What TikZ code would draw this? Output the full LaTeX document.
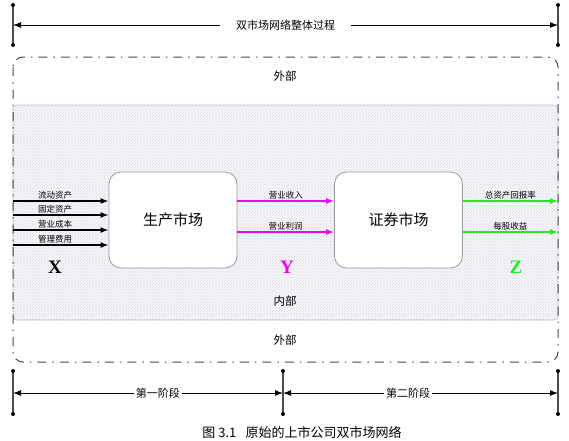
\documentclass[tikz,border=0pt]{standalone}
\usepackage{fontspec}
\setmainfont{Liberation Serif}
\newfontfamily\cjk{Noto Sans CJK SC}
\usetikzlibrary{arrows.meta,patterns}
\definecolor{mag}{RGB}{240,0,240}
\definecolor{grn}{RGB}{40,230,40}
\definecolor{hatchbg}{RGB}{248,248,251}
\definecolor{hatchln}{RGB}{218,218,232}
\begin{document}
\begin{tikzpicture}[x=1pt,y=-1pt,
  tick/.style={draw=gray!60!black,line width=1.4pt},
  dotc/.style={fill=black},
  dimline/.style={draw=black,line width=1pt,{Latex[length=8pt,width=6pt]}-{Latex[length=8pt,width=6pt]}},
  dimlabel/.style={fill=white,font=\cjk\fontsize{11}{12}\selectfont,inner ysep=1pt},
  outerbox/.style={draw=gray!55!black,line width=1pt,rounded corners=10pt,dash pattern=on 9pt off 6pt on 1.5pt off 6pt},
  innerbox/.style={draw=gray!75,line width=0.6pt,rounded corners=4pt,dash pattern=on 2pt off 1pt,
     preaction={fill=hatchbg},pattern=north east lines,pattern color=hatchln},
  mbox/.style={draw=gray!80,line width=0.8pt,fill=white,rounded corners=12pt,minimum width=128pt,minimum height=96pt,
     font=\cjk\fontsize{15}{16}\selectfont},
  region/.style={font=\cjk\fontsize{11.5}{12}\selectfont},
  arr/.style={line width=1.4pt,-{Latex[length=8pt,width=6pt]}},
  lab/.style={above,inner sep=1.5pt,font=\cjk\fontsize{8.5}{9}\selectfont},
  big/.style={font=\bfseries\fontsize{19}{19}\selectfont}
]
\useasboundingbox (0,0) rectangle (569,440);

% top dimension
\coordinate (t1a) at (13,5); \coordinate (t1b) at (13,45);
\coordinate (t2a) at (558,5); \coordinate (t2b) at (558,45);
\draw[tick] (t1a) -- (t1b);
\draw[tick] (t2a) -- (t2b);
\foreach \c in {t1a,t1b,t2a,t2b} \fill[dotc] (\c) circle (2);
\coordinate (ta) at (13,25); \coordinate (tb) at (558,25);
\draw[dimline] (ta) -- (tb) node[midway,dimlabel,inner xsep=16pt] (ttl) {双市场网络整体过程};

% inner hatched region and outer border
\draw[innerbox] (13,105) rectangle (558,320);
\draw[outerbox] (13,57) rectangle (558,362);
\node[region] (out1) at (285,76) {外部};
\node[region] (inn) at (285,301) {内部};
\node[region] (out2) at (285,340) {外部};

% boxes
\node[mbox] (pm) at (173,220) {生产市场};
\node[mbox] (zq) at (398.5,220) {证券市场};

% inputs
\coordinate (i1) at (13,201); \coordinate (i2) at (13,215);
\coordinate (i3) at (13,230); \coordinate (i4) at (13,245);
\draw[arr] (i1) -- (i1 -| pm.west) node[lab,pos=0.44] (l1) {流动资产};
\draw[arr] (i2) -- (i2 -| pm.west) node[lab,pos=0.44] (l2) {固定资产};
\draw[arr] (i3) -- (i3 -| pm.west) node[lab,pos=0.44] (l3) {营业成本};
\draw[arr] (i4) -- (i4 -| pm.west) node[lab,pos=0.44] (l4) {管理费用};
\node[big] (X) at (55,267) {X};

% middle
\coordinate (m1) at (pm.east |- i1);
\coordinate (m2) at (237,232);
\draw[arr,mag] (m1) -- (m1 -| zq.west) node[lab,midway,text=black] (l5) {营业收入};
\draw[arr,mag] (m2) -- (m2 -| zq.west) node[lab,midway,text=black] (l6) {营业利润};
\node[big,text=mag] (Y) at (287,267) {Y};

% outputs
\coordinate (o1) at (zq.east |- i1);
\coordinate (o2) at (zq.east |- m2);
\coordinate (e1) at (558,201);
\coordinate (e2) at (558,232);
\draw[arr,grn] (o1) -- (e1) node[lab,midway,text=black] (l7) {总资产回报率};
\draw[arr,grn] (o2) -- (e2) node[lab,midway,text=black] (l8) {每股收益};
\node[big,text=grn] (Z) at (516,267) {Z};

% bottom dimension
\coordinate (b1a) at (13,371); \coordinate (b1b) at (13,414);
\coordinate (b2a) at (283,371); \coordinate (b2b) at (283,414);
\coordinate (b3a) at (558,371); \coordinate (b3b) at (558,414);
\draw[tick] (b1a) -- (b1b);
\draw[tick] (b2a) -- (b2b);
\draw[tick] (b3a) -- (b3b);
\foreach \c in {b1a,b1b,b2a,b2b,b3a,b3b} \fill[dotc] (\c) circle (2);
\coordinate (s1) at (13,393); \coordinate (s2) at (283,393); \coordinate (s3) at (558,393);
\draw[dimline] (s1) -- (s2) node[pos=0.537,dimlabel,inner xsep=2pt] (p1) {第一阶段};
\draw[dimline] (s2) -- (s3) node[pos=0.455,dimlabel,inner xsep=2pt] (p2) {第二阶段};

% caption
\node[font=\cjk\fontsize{13}{14}\selectfont] (cap) at (302,432) {图 3.1\hspace{0.7em}原始的上市公司双市场网络};
\end{tikzpicture}
\end{document}
